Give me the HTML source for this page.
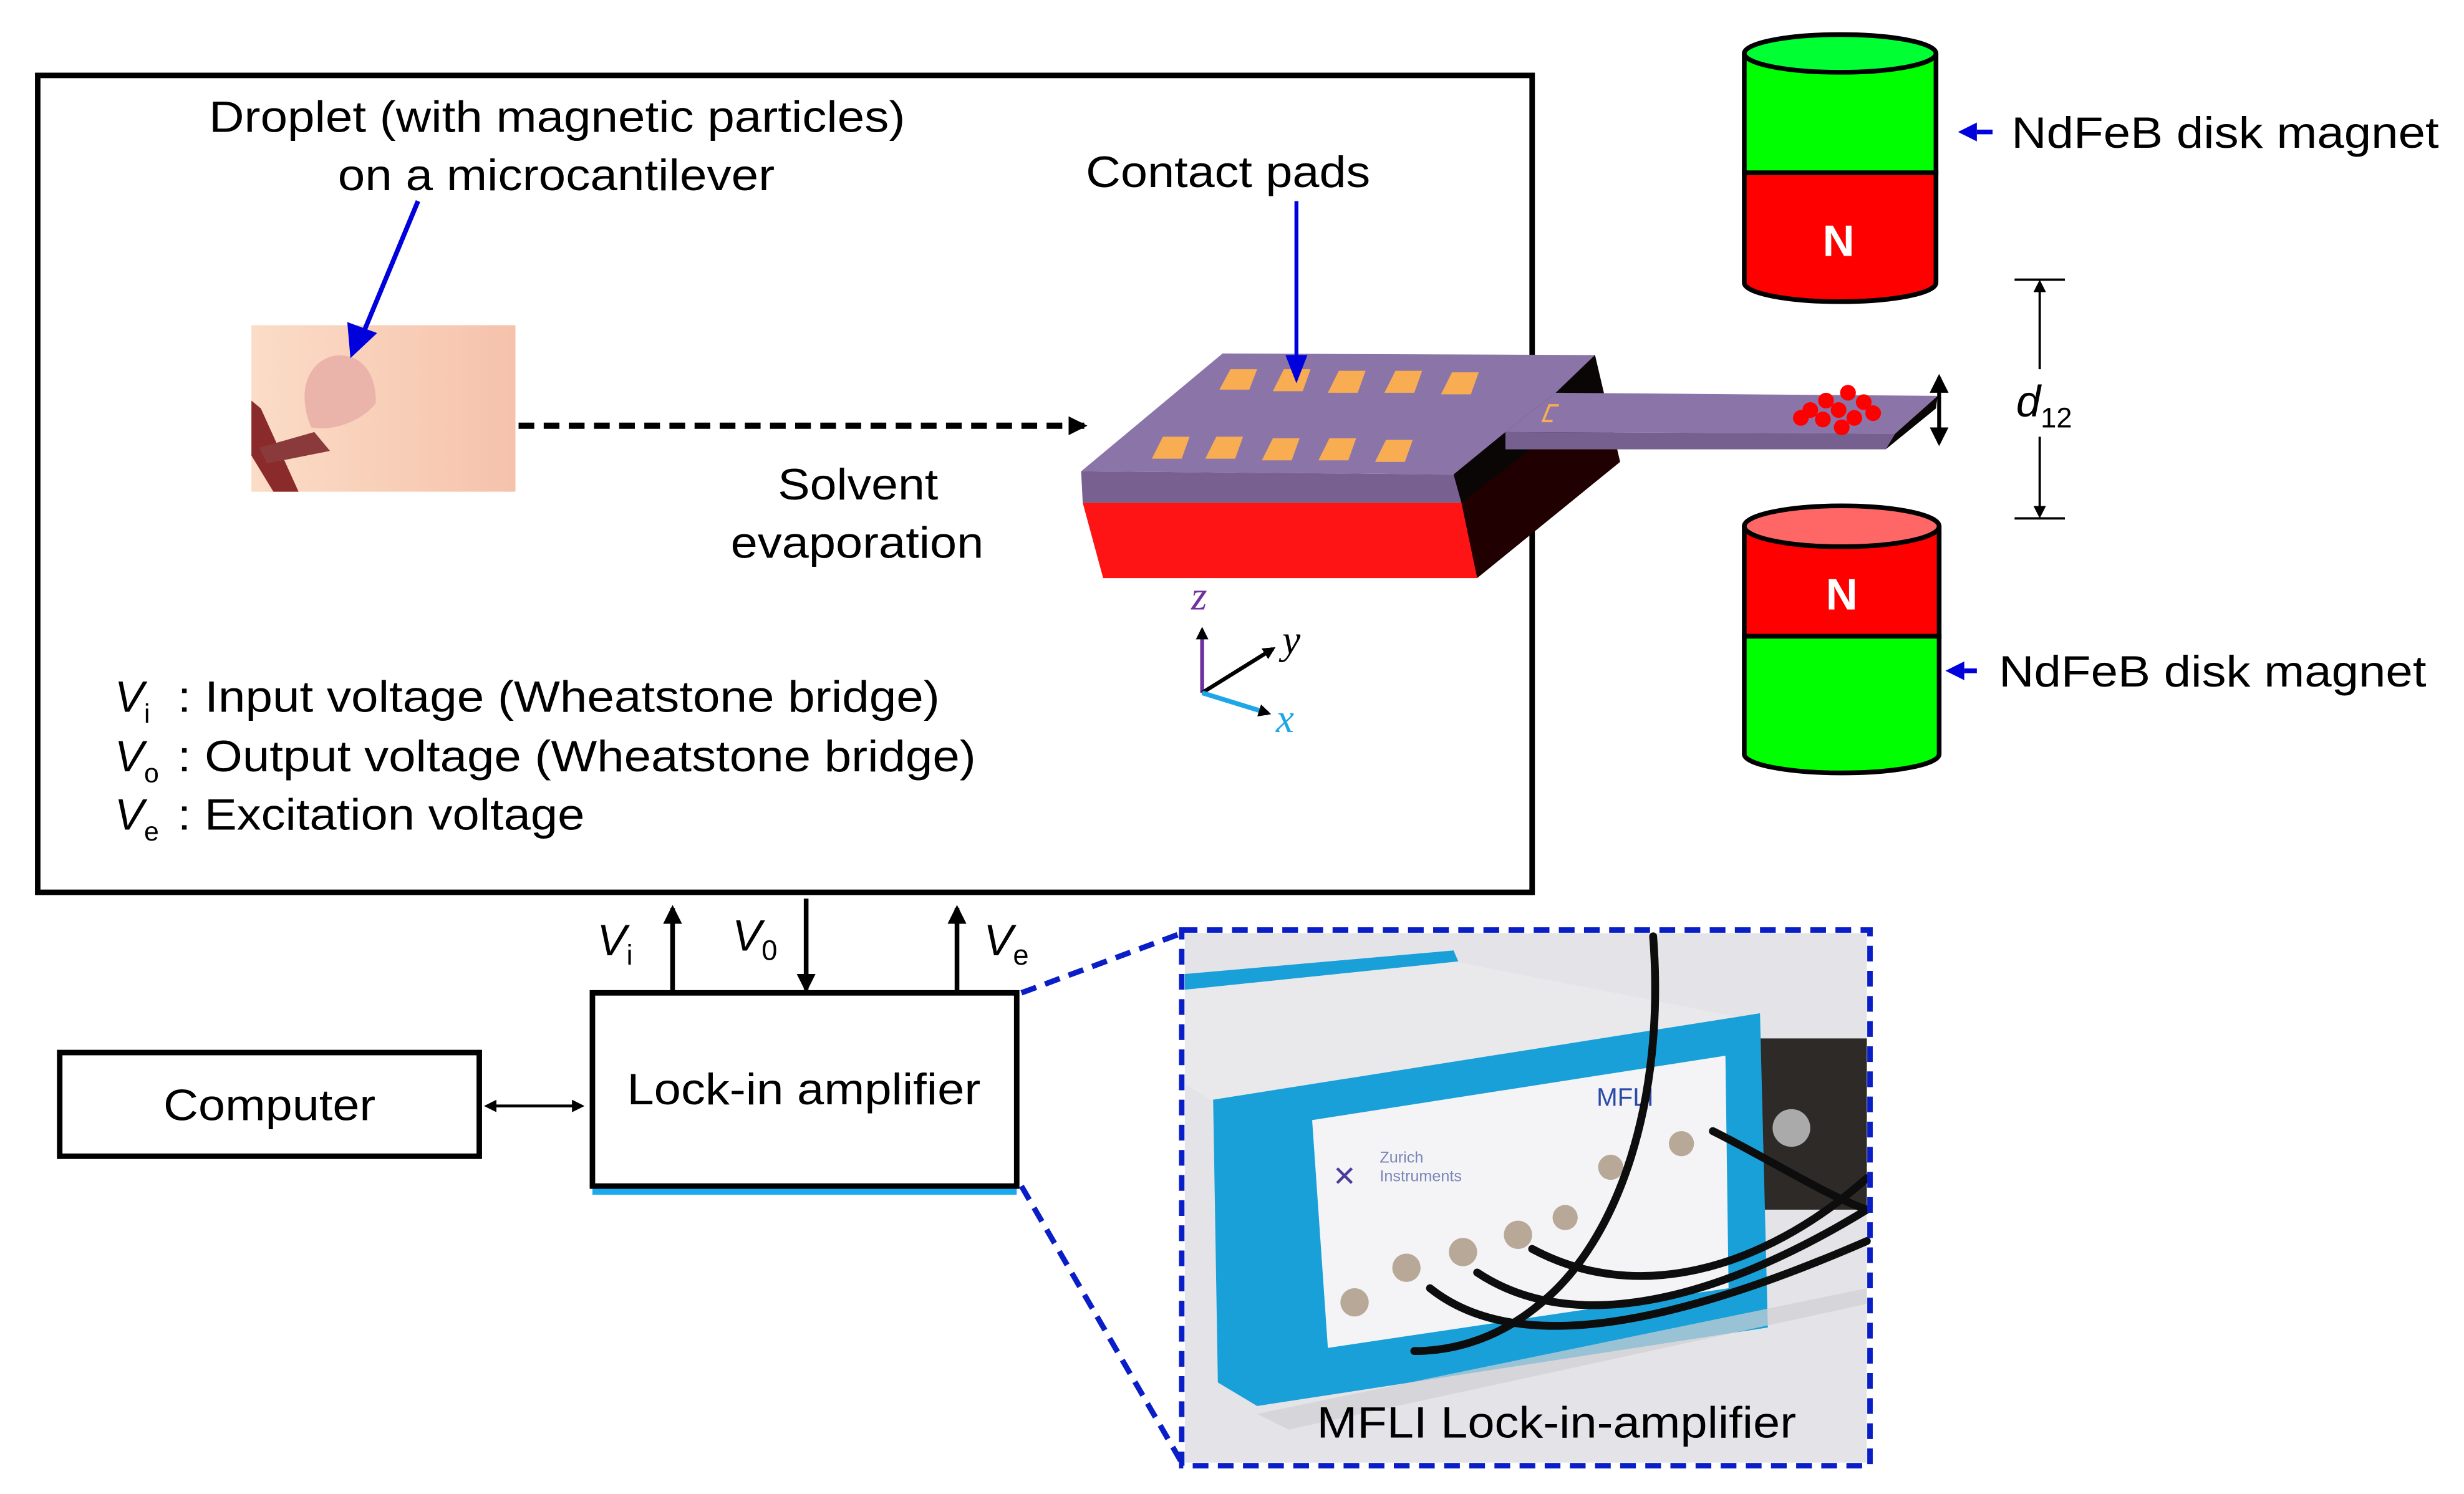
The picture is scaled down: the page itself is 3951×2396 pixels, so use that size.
<!DOCTYPE html>
<html><head><meta charset="utf-8"><style>html,body{margin:0;padding:0;background:#fff}svg{display:block}</style></head>
<body>
<svg width="3951" height="2396" viewBox="0 0 1568 951" preserveAspectRatio="none" xmlns="http://www.w3.org/2000/svg" font-family="Liberation Sans, Arial, sans-serif">
<defs>
<marker id="ab" markerWidth="8" markerHeight="8" refX="6" refY="4" orient="auto-start-reverse" markerUnits="userSpaceOnUse"><path d="M0,0 L8,4 L0,8 z" fill="#000"/></marker>
<marker id="ak" markerWidth="12" markerHeight="12" refX="10" refY="6" orient="auto-start-reverse" markerUnits="userSpaceOnUse"><path d="M0,0 L12,6 L0,12 z" fill="#000"/></marker>
<linearGradient id="pk" x1="0" x2="1"><stop offset="0" stop-color="#fbdcc6"/><stop offset="1" stop-color="#f6c2ac"/></linearGradient>
</defs>
<!-- main box -->
<rect x="24" y="48" width="951" height="520" fill="none" stroke="#000" stroke-width="3.5"/>
<g font-size="28" fill="#000">
<text x="133" y="84" textLength="443" lengthAdjust="spacingAndGlyphs">Droplet (with magnetic particles)</text>
<text x="215" y="121" textLength="278" lengthAdjust="spacingAndGlyphs">on a microcantilever</text>
<text x="691" y="119" textLength="181" lengthAdjust="spacingAndGlyphs">Contact pads</text>
<text x="495" y="318" textLength="102" lengthAdjust="spacingAndGlyphs">Solvent</text>
<text x="465" y="355" textLength="161" lengthAdjust="spacingAndGlyphs">evaporation</text>
</g>
<!-- droplet photo -->
<rect x="160" y="207" width="168" height="106" fill="url(#pk)"/>
<polygon points="160,255 166,260 190,313 174,313 160,290" fill="#8a2a2a"/>
<polygon points="165,285 200,275 210,287 170,295" fill="#8a3a3a"/>
<path d="M198,272 C185,240 205,222 222,227 C235,230 240,245 239,257 C230,268 212,275 198,272z" fill="#eab4aa"/>
<line x1="266" y1="128" x2="232" y2="210" stroke="#0000dd" stroke-width="3"/>
<polygon points="223,228 221,205 240,212" fill="#0000dd"/>
<!-- dashed arrow -->
<line x1="330" y1="271" x2="690" y2="271" stroke="#000" stroke-width="4" stroke-dasharray="10,6" marker-end="url(#ak)"/>
<!-- chip -->
<polygon points="925,302 1015,226 1031,294 940,368" fill="#200000"/>
<polygon points="925,302 1015,226 1020,250 930,320" fill="#0a0606"/>
<polygon points="688,300 925,302 930,320 689,320" fill="#786090"/>
<polygon points="689,320 930,320 940,368 702,368" fill="#fe1414"/>
<polygon points="778,225 1015,226 990,250 958,275 925,302 688,300" fill="#8b75a8"/>
<polygon points="958,275 1206,276 1200,286 958,286" fill="#756090"/>
<polygon points="1206,276 1233,252 1232,260 1200,286" fill="#0a0606"/>
<polygon points="990,250 1233,252 1206,276 958,275" fill="#8b75a8"/>
<g fill="#f9ad52">
<polygon points="783,235 800,235 795,248 776,248"/><polygon points="817,235 834,235 829,249 810,249"/><polygon points="852,236 869,236 864,250 845,250"/><polygon points="888,236 905,236 900,250 881,250"/><polygon points="924,237 941,237 936,251 917,251"/>
<polygon points="740,278 757,278 752,292 733,292"/><polygon points="774,278 791,278 786,292 767,292"/><polygon points="810,279 827,279 822,293 803,293"/><polygon points="846,279 863,279 858,293 839,293"/><polygon points="882,280 899,280 894,294 875,294"/>
</g>
<line x1="825" y1="128" x2="825" y2="228" stroke="#0000dd" stroke-width="2.5"/>
<polygon points="825,244 818,226 832,226" fill="#0000dd"/>
<path d="M992,258 L986,258 L982,268 L988,268" stroke="#f9ad52" stroke-width="1.5" fill="none"/>
<g fill="#f00">
<circle cx="1176" cy="250" r="5"/><circle cx="1162" cy="255" r="5"/><circle cx="1186" cy="256" r="5"/><circle cx="1152" cy="261" r="5"/><circle cx="1170" cy="261" r="5"/><circle cx="1180" cy="266" r="5"/><circle cx="1146" cy="266" r="5"/><circle cx="1160" cy="267" r="5"/><circle cx="1192" cy="263" r="5"/><circle cx="1172" cy="272" r="5"/>
</g>
<line x1="1234" y1="240" x2="1234" y2="282" stroke="#000" stroke-width="2.5" marker-end="url(#ak)" marker-start="url(#ak)"/>
<!-- axes -->
<line x1="765" y1="441" x2="765" y2="401" stroke="#7030a0" stroke-width="2.5" marker-end="url(#ab)"/>
<line x1="765" y1="441" x2="810" y2="413" stroke="#000" stroke-width="2.5" marker-end="url(#ab)"/>
<line x1="765" y1="441" x2="807" y2="454" stroke="#1ea7e8" stroke-width="3" marker-end="url(#ab)"/>
<g font-family="Liberation Serif, serif" font-style="italic" font-size="26">
<text x="758" y="388" fill="#7030a0">z</text><text x="816" y="416" fill="#000">y</text><text x="812" y="466" fill="#1ea7e8">x</text>
</g>
<!-- legend -->
<g font-size="28">
<text x="73" y="453"><tspan font-style="italic">V</tspan><tspan font-size="17" dy="7">i</tspan></text>
<text x="113" y="453" textLength="485" lengthAdjust="spacingAndGlyphs">: Input voltage (Wheatstone bridge)</text>
<text x="73" y="491"><tspan font-style="italic">V</tspan><tspan font-size="17" dy="7">o</tspan></text>
<text x="113" y="491" textLength="508" lengthAdjust="spacingAndGlyphs">: Output voltage (Wheatstone bridge)</text>
<text x="73" y="528"><tspan font-style="italic">V</tspan><tspan font-size="17" dy="7">e</tspan></text>
<text x="113" y="528" textLength="259" lengthAdjust="spacingAndGlyphs">: Excitation voltage</text>
</g>
<!-- magnets -->
<g stroke="#000" stroke-width="3">
<path d="M1110,34 V110 H1232 V34" fill="#00ff00"/>
<path d="M1110,110 V180 A61,12 0 0 0 1232,180 V110 Z" fill="#ff0000"/>
<ellipse cx="1171" cy="34" rx="61" ry="12" fill="#00ff33"/>
<path d="M1110,335 V405 H1234 V335" fill="#ff0000"/>
<path d="M1110,405 V480 A62,12 0 0 0 1234,480 V405 Z" fill="#00ff00"/>
<ellipse cx="1172" cy="335" rx="62" ry="13" fill="#ff6666"/>
</g>
<g fill="#fff" font-weight="bold" font-size="28" text-anchor="middle"><text x="1170" y="163">N</text><text x="1172" y="388">N</text></g>
<line x1="1268" y1="84" x2="1258" y2="84" stroke="#0000dd" stroke-width="3"/><polygon points="1246,84 1258,78 1258,90" fill="#0000dd"/>
<line x1="1258" y1="427" x2="1250" y2="427" stroke="#0000dd" stroke-width="3"/><polygon points="1238,427 1250,421 1250,433" fill="#0000dd"/>
<g font-size="28"><text x="1280" y="94" textLength="272" lengthAdjust="spacingAndGlyphs">NdFeB disk magnet</text><text x="1272" y="437" textLength="272" lengthAdjust="spacingAndGlyphs">NdFeB disk magnet</text></g>
<!-- d12 -->
<g stroke="#000" stroke-width="1.5"><line x1="1282" y1="178" x2="1314" y2="178"/><line x1="1282" y1="330" x2="1314" y2="330"/>
<line x1="1298" y1="235" x2="1298" y2="180" marker-end="url(#ab)"/><line x1="1298" y1="278" x2="1298" y2="328" marker-end="url(#ab)"/></g>
<text x="1283" y="265" font-size="28"><tspan font-style="italic">d</tspan><tspan font-size="18" dy="7">12</tspan></text>
<!-- bottom -->
<g stroke="#000" stroke-width="3">
<line x1="428" y1="632" x2="428" y2="578" marker-end="url(#ak)"/>
<line x1="513" y1="572" x2="513" y2="630" marker-end="url(#ak)"/>
<line x1="609" y1="632" x2="609" y2="578" marker-end="url(#ak)"/>
</g>
<g font-size="28">
<text x="380" y="608"><tspan font-style="italic">V</tspan><tspan font-size="18" dy="6">i</tspan></text>
<text x="466" y="605"><tspan font-style="italic">V</tspan><tspan font-size="18" dy="6">0</tspan></text>
<text x="626" y="608"><tspan font-style="italic">V</tspan><tspan font-size="18" dy="6">e</tspan></text>
</g>
<line x1="377" y1="758" x2="647" y2="758" stroke="#1aaaf0" stroke-width="5"/>
<rect x="377" y="632" width="270" height="123" fill="#fff" stroke="#000" stroke-width="3.5"/>
<text x="399" y="703" font-size="28" textLength="225" lengthAdjust="spacingAndGlyphs">Lock-in amplifier</text>
<rect x="38" y="670" width="267" height="66" fill="#fff" stroke="#000" stroke-width="3.5"/>
<text x="104" y="713" font-size="28" textLength="135" lengthAdjust="spacingAndGlyphs">Computer</text>
<line x1="310" y1="704" x2="370" y2="704" stroke="#000" stroke-width="1.8" marker-end="url(#ab)" marker-start="url(#ab)"/>
<!-- photo -->
<rect x="754" y="594" width="434" height="337" fill="#e4e4e8"/>
<polygon points="1120,661 1188,661 1188,770 1120,770" fill="#2d2a28"/>
<circle cx="1140" cy="718" r="12" fill="#aaa"/>
<polygon points="754,625 925,612 1120,650 1120,700 770,700 754,690" fill="#e9e9ec"/>
<polygon points="754,620 925,605 928,612 754,630" fill="#1aa0d8"/>
<polygon points="772,700 1120,645 1125,845 800,895 775,880" fill="#1aa0d8"/>
<polygon points="835,713 1098,672 1100,820 845,858" fill="#f4f4f6"/>
<text x="1016" y="704" font-size="16" fill="#2a4aa8">MFLI</text>
<text x="878" y="740" font-size="10" fill="#7a86b8">Zurich</text><text x="878" y="752" font-size="10" fill="#7a86b8">Instruments</text>
<text x="848" y="755" font-size="18" fill="#4a3a9a">✕</text>
<g fill="#b8a898"><circle cx="862" cy="829" r="9"/><circle cx="895" cy="807" r="9"/><circle cx="931" cy="797" r="9"/><circle cx="966" cy="786" r="9"/><circle cx="996" cy="775" r="8"/><circle cx="1025" cy="743" r="8"/><circle cx="1070" cy="728" r="8"/></g>
<g stroke="#0d0d0d" stroke-width="5" fill="none" stroke-linecap="round">
<path d="M1052,596 C1060,700 1030,790 980,830 C950,855 920,860 900,860"/>
<path d="M910,820 C960,860 1050,850 1188,790"/>
<path d="M940,810 C1000,850 1090,830 1188,770"/>
<path d="M975,795 C1040,830 1120,810 1188,750"/>
<path d="M1090,720 C1130,740 1160,760 1188,770"/>
</g>
<g fill="#d0d0d4" opacity="0.7"><polygon points="800,900 1188,820 1188,830 820,910"/></g>
<text x="838" y="915" font-size="28" textLength="305" lengthAdjust="spacingAndGlyphs">MFLI Lock-in-amplifier</text>
<rect x="752" y="592" width="438" height="341" fill="none" stroke="#0a1ec8" stroke-width="3.5" stroke-dasharray="10,6"/>
<g stroke="#0a1ec8" stroke-width="3.5" stroke-dasharray="10,6"><line x1="650" y1="632" x2="752" y2="594"/><line x1="650" y1="755" x2="752" y2="931"/></g>
</svg>
</body></html>
